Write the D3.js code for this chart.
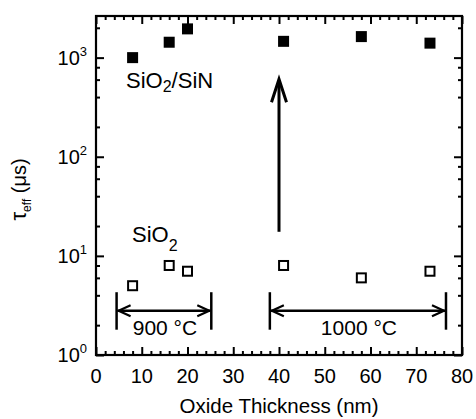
<!DOCTYPE html>
<html>
<head>
<meta charset="utf-8">
<script src="https://cdn.jsdelivr.net/npm/d3@7/dist/d3.min.js"></script>
<style>
  html, body { margin: 0; padding: 0; background: #fff; }
  svg text { font-family: Arial, "Liberation Sans", Helvetica, sans-serif; fill: #000; }
</style>
</head>
<body>
<svg id="chart" width="476" height="419"></svg>
<script>
// Oxide thickness (nm) of each sample
const thickness = [8, 16, 20, 41, 58, 73];
// Effective lifetime (µs) with SiO2/SiN stack
const tauStack = [1000, 1430, 1950, 1460, 1630, 1400];
// Effective lifetime (µs) with SiO2 only
const tauOxide = [5, 8, 7, 8, 6, 7];

const xTicks = [0, 10, 20, 30, 40, 50, 60, 70, 80];
const yTicks = [1, 10, 100, 1000];
const yExponents = ["0", "1", "2", "3"];

// Oxidation temperature ranges (thickness span, label)
const tempLabels = ["900 °C", "1000 °C"];
const tempFrom = [4.5, 38];
const tempTo = [25.2, 76.5];
const tempLevel = 2.8;           // lifetime level of the range arrows
const tempBarLow = 1.8, tempBarHigh = 4.3;

// Improvement arrow from SiO2 to SiO2/SiN
const improveX = 40;
const improveFrom = 17.5, improveTo = 620;

const svg = d3.select("#chart");
const m = { left: 96, right: 462, top: 16, bottom: 355 };

const x = d3.scaleLinear().domain([0, 80]).range([m.left, m.right]);
const y = d3.scaleLog().domain([1, 2630]).range([m.bottom, m.top]);

const W = m.right - m.left, H = m.bottom - m.top;

// minor ticks
const xMinor = d3.range(0, 81, 2).filter(v => v % 10 !== 0);
const yMinor = [];
[1, 10, 100, 1000].forEach(d => [2, 4, 6, 8].forEach(k => { if (d * k <= 2630) yMinor.push(d * k); }));

const axisStyle = g => {
  g.select(".domain").remove();
  g.selectAll("line").attr("stroke", "#000").attr("stroke-width", 2);
  g.selectAll("text").remove();
};

// bottom & top x axes (ticks pointing inward)
svg.append("g").attr("transform", `translate(0,${m.bottom})`)
  .call(d3.axisBottom(x).tickValues(xTicks).tickSize(-8)).call(axisStyle);
svg.append("g").attr("transform", `translate(0,${m.bottom})`)
  .call(d3.axisBottom(x).tickValues(xMinor).tickSize(-4)).call(axisStyle);
svg.append("g").attr("transform", `translate(0,${m.top})`)
  .call(d3.axisTop(x).tickValues(xTicks).tickSize(-8)).call(axisStyle);
svg.append("g").attr("transform", `translate(0,${m.top})`)
  .call(d3.axisTop(x).tickValues(xMinor).tickSize(-4)).call(axisStyle);

// left & right y axes
svg.append("g").attr("transform", `translate(${m.left},0)`)
  .call(d3.axisLeft(y).tickValues(yTicks).tickSize(-8)).call(axisStyle);
svg.append("g").attr("transform", `translate(${m.left},0)`)
  .call(d3.axisLeft(y).tickValues(yMinor).tickSize(-4)).call(axisStyle);
svg.append("g").attr("transform", `translate(${m.right},0)`)
  .call(d3.axisRight(y).tickValues(yTicks).tickSize(-8)).call(axisStyle);
svg.append("g").attr("transform", `translate(${m.right},0)`)
  .call(d3.axisRight(y).tickValues(yMinor).tickSize(-4)).call(axisStyle);

// frame
svg.append("rect")
  .attr("x", m.left).attr("y", m.top).attr("width", W).attr("height", H)
  .attr("fill", "none").attr("stroke", "#000").attr("stroke-width", 2.2);

// x tick labels
svg.append("g").selectAll("text").data(xTicks).join("text")
  .attr("x", d => x(d)).attr("y", 383)
  .attr("text-anchor", "middle").attr("font-size", 20)
  .text(d => d);

// y tick labels: 10^n
const yl = svg.append("g").selectAll("text").data(yTicks).join("text")
  .attr("x", 87).attr("y", d => y(d) + 7)
  .attr("text-anchor", "end").attr("font-size", 20);
yl.append("tspan").text("10");
yl.append("tspan").attr("font-size", 13).attr("dy", -9).text((d, i) => yExponents[i]);

// axis titles
svg.append("text").attr("x", (m.left + m.right) / 2).attr("y", 413)
  .attr("text-anchor", "middle").attr("font-size", 20.5)
  .text("Oxide Thickness (nm)");

const yt = svg.append("text")
  .attr("transform", `translate(26,${(m.top + m.bottom) / 2 + 4}) rotate(-90)`)
  .attr("text-anchor", "middle").attr("font-size", 20);
yt.append("tspan").attr("font-size", 22).text("τ");
yt.append("tspan").attr("font-size", 12).attr("dy", 5).text("eff");
yt.append("tspan").attr("dy", -5).text(" (μs)");

// data markers
const s = 11;
svg.append("g").selectAll("rect").data(thickness).join("rect")
  .attr("x", (d) => x(d) - s / 2).attr("y", (d, i) => y(tauStack[i]) - s / 2)
  .attr("width", s).attr("height", s).attr("fill", "#000");

svg.append("g").selectAll("rect").data(thickness).join("rect")
  .attr("x", (d) => x(d) - (s - 2) / 2).attr("y", (d, i) => y(tauOxide[i]) - (s - 2) / 2)
  .attr("width", s - 2).attr("height", s - 2)
  .attr("fill", "#fff").attr("stroke", "#000").attr("stroke-width", 2);

// series labels
const l1 = svg.append("text").attr("x", 126).attr("y", 88).attr("font-size", 22);
l1.append("tspan").text("SiO");
l1.append("tspan").attr("font-size", 16).attr("dy", 4).text("2");
l1.append("tspan").attr("dy", -4).text("/SiN");

const l2 = svg.append("text").attr("x", 132).attr("y", 241.5).attr("font-size", 22);
l2.append("tspan").text("SiO");
l2.append("tspan").attr("font-size", 16).attr("dy", 9).text("2");

// improvement arrow
const ax = x(improveX), ay0 = y(improveFrom), ay1 = y(improveTo);
svg.append("line").attr("x1", ax).attr("x2", ax).attr("y1", ay0).attr("y2", ay1 + 2)
  .attr("stroke", "#000").attr("stroke-width", 3);
svg.append("path")
  .attr("d", `M${ax - 7.5},${ay1 + 24} L${ax},${ay1 + 1} L${ax + 7.5},${ay1 + 24}`)
  .attr("fill", "none").attr("stroke", "#000").attr("stroke-width", 3)
  .attr("stroke-linejoin", "miter");

// temperature range arrows
const tg = svg.append("g");
tempLabels.forEach((lab, i) => {
  const xa = x(tempFrom[i]), xb = x(tempTo[i]), yy = y(tempLevel);
  [xa, xb].forEach(xx => tg.append("line")
    .attr("x1", xx).attr("x2", xx).attr("y1", y(tempBarHigh)).attr("y2", y(tempBarLow))
    .attr("stroke", "#000").attr("stroke-width", 2.5));
  tg.append("line").attr("x1", xa + 1).attr("x2", xb - 1).attr("y1", yy).attr("y2", yy)
    .attr("stroke", "#000").attr("stroke-width", 2.5);
  tg.append("path").attr("d", `M${xa + 14},${yy - 5.5} L${xa + 2},${yy} L${xa + 14},${yy + 5.5}`)
    .attr("fill", "none").attr("stroke", "#000").attr("stroke-width", 2.2);
  tg.append("path").attr("d", `M${xb - 14},${yy - 5.5} L${xb - 2},${yy} L${xb - 14},${yy + 5.5}`)
    .attr("fill", "none").attr("stroke", "#000").attr("stroke-width", 2.2);
  tg.append("text").attr("x", (xa + xb) / 2 + 1).attr("y", 335)
    .attr("text-anchor", "middle").attr("font-size", 21).text(lab);
});
</script>
</body>
</html>
